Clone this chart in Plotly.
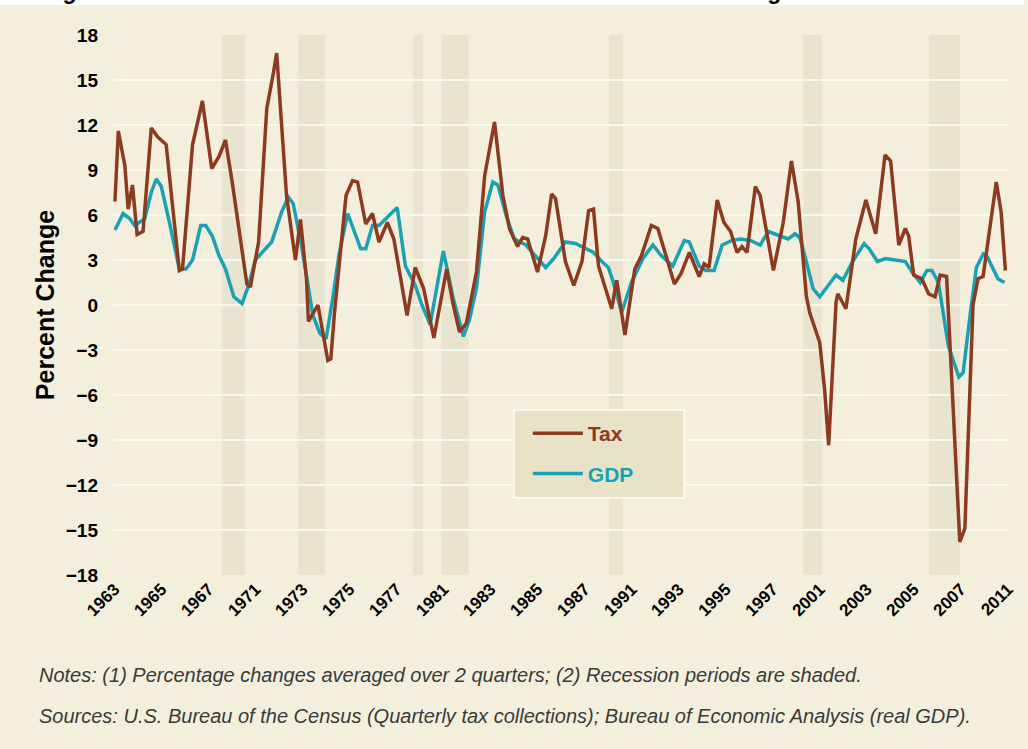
import numpy as np
import plotly.graph_objects as go

# ---- data: percent change, averaged over 2 quarters ----
tax_years = [1964.00, 1964.18, 1964.53, 1964.71, 1964.94, 1965.19, 1965.51, 1965.95, 1966.30, 1966.75,
             1967.46, 1967.63, 1968.17, 1968.70, 1969.20, 1969.59, 1969.94, 1970.30, 1971.09, 1971.28,
             1971.72, 1972.16, 1972.52, 1972.69, 1973.22, 1973.70, 1973.97, 1974.29, 1974.40, 1974.91,
             1975.44, 1975.60, 1975.80, 1976.42, 1976.77, 1977.04, 1977.48, 1977.84, 1978.19, 1978.64,
             1978.99, 1979.34, 1979.70, 1980.14, 1980.59, 1981.14, 1981.83, 1982.15, 1982.52, 1982.89,
             1983.43, 1983.87, 1984.40, 1984.85, 1985.20, 1985.64, 1985.91, 1986.18, 1986.71, 1987.15,
             1987.47, 1987.68, 1988.21, 1988.66, 1989.10, 1989.46, 1989.72, 1989.99, 1990.70, 1990.97,
             1991.41, 1991.94, 1992.30, 1992.83, 1993.18, 1994.07, 1994.43, 1994.87, 1995.40, 1995.67,
             1995.93, 1996.37, 1996.73, 1997.09, 1997.44, 1997.70, 1997.97, 1998.42, 1998.68, 1999.39,
             1999.92, 2000.36, 2000.72, 2001.16, 2001.34, 2001.88, 2002.14, 2002.36, 2002.76, 2002.85,
             2003.29, 2003.82, 2004.36, 2004.89, 2005.39, 2005.69, 2006.13, 2006.48, 2006.66, 2006.93,
             2007.37, 2007.73, 2008.08, 2008.35, 2008.70, 2009.41, 2009.68, 2010.12, 2010.39, 2010.66,
             2011.37, 2011.63, 2011.86]
tax_values = [6.9, 11.6, 9.3, 6.4, 8.0, 4.7, 4.9, 11.8, 11.2, 10.7,
              2.3, 2.4, 10.7, 13.6, 9.1, 9.9, 11.0, 8.2, 1.4, 1.2,
              4.2, 13.1, 15.5, 16.8, 7.3, 3.0, 5.7, 1.8, -1.1, 0.0,
              -3.7, -3.6, -0.5, 7.3, 8.3, 8.2, 5.4, 6.1, 4.2, 5.5,
              4.4, 2.0, -0.7, 2.5, 1.1, -2.2, 2.4, 0.2, -1.8, -1.2,
              2.2, 8.6, 12.2, 7.3, 5.1, 3.9, 4.5, 4.4, 2.2, 4.6,
              7.4, 7.1, 2.9, 1.3, 2.9, 6.3, 6.4, 2.6, -0.25, 1.65,
              -2.0, 2.4, 3.3, 5.3, 5.1, 1.4, 2.1, 3.5, 1.9, 2.75,
              2.5, 7.0, 5.5, 4.9, 3.5, 3.9, 3.5, 7.9, 7.3, 2.3,
              5.5, 9.6, 6.9, 0.6, -0.5, -2.5, -5.6, -9.35, 0.2, 0.75,
              -0.25, 4.4, 7.0, 4.75, 10.0, 9.6, 4.0, 5.1, 4.6, 2.0,
              1.75, 0.75, 0.55, 2.0, 1.9, -15.8, -14.9, 0.0, 1.75, 1.9,
              8.2, 6.2, 2.3]

gdp_years = [1964.00, 1964.44, 1964.80, 1965.06, 1965.60, 1965.95, 1966.22, 1966.49, 1966.93, 1967.46,
             1967.82, 1968.17, 1968.61, 1968.88, 1969.23, 1969.59, 1969.94, 1970.39, 1970.83, 1971.18,
             1971.54, 1972.07, 1972.42, 1972.96, 1973.31, 1973.58, 1974.02, 1974.38, 1974.64, 1975.02,
             1975.35, 1975.71, 1976.06, 1976.51, 1977.21, 1977.48, 1977.84, 1978.19, 1978.81, 1979.17,
             1979.61, 1980.14, 1980.50, 1980.94, 1981.65, 1982.19, 1982.73, 1983.05, 1983.43, 1983.87,
             1984.31, 1984.58, 1985.02, 1985.46, 1986.09, 1986.44, 1987.15, 1987.59, 1988.21, 1988.75,
             1989.28, 1989.72, 1990.17, 1990.52, 1990.79, 1991.23, 1991.76, 1992.38, 1992.91, 1993.36,
             1993.98, 1994.60, 1994.87, 1995.40, 1995.76, 1996.20, 1996.64, 1997.17, 1997.62, 1998.15,
             1998.68, 1999.12, 1999.75, 2000.19, 2000.55, 2000.81, 2001.16, 2001.52, 2001.88, 2002.32,
             2002.76, 2003.12, 2003.65, 2004.27, 2004.54, 2004.98, 2005.42, 2005.95, 2006.48, 2006.84,
             2007.28, 2007.64, 2007.91, 2008.26, 2008.79, 2009.36, 2009.59, 2009.98, 2010.30, 2010.67,
             2010.89, 2011.46, 2011.81]
gdp_values = [5.0, 6.1, 5.75, 5.3, 5.75, 7.5, 8.4, 7.9, 5.5, 2.4,
              2.4, 3.0, 5.3, 5.3, 4.6, 3.3, 2.4, 0.55, 0.1, 1.3,
              3.0, 3.75, 4.2, 6.2, 7.2, 6.75, 4.0, 1.3, -0.7, -1.9,
              -2.25, 0.5, 3.5, 6.1, 3.75, 3.75, 5.3, 5.3, 6.1, 6.5,
              2.6, 1.3, 0.0, -1.3, 3.6, 0.4, -2.1, -1.0, 1.1, 6.2,
              8.2, 8.0, 6.0, 4.4, 4.0, 3.5, 2.5, 3.1, 4.2, 4.1,
              3.75, 3.5, 2.9, 2.5, 1.5, -0.5, 1.5, 3.1, 4.0, 3.3,
              2.6, 4.3, 4.2, 2.6, 2.3, 2.3, 4.0, 4.3, 4.4, 4.3,
              4.0, 4.9, 4.6, 4.4, 4.75, 4.5, 2.9, 1.1, 0.55, 1.3,
              2.0, 1.65, 2.9, 4.1, 3.75, 2.9, 3.1, 3.0, 2.9, 2.2,
              1.5, 2.3, 2.3, 1.5, -2.7, -4.8, -4.5, -0.5, 2.5, 3.4,
              3.2, 1.75, 1.5]

# recession periods (start, end) in decimal years
recession_start = [1969.75, 1973.85, 1980.0, 1981.55, 1990.55, 2001.0, 2007.75]
recession_end = [1971.0, 1975.28, 1980.55, 1983.0, 1991.3, 2002.0, 2009.42]

tick_labels = ["1963", "1965", "1967", "1971", "1973", "1975", "1977", "1981", "1983", "1985",
               "1987", "1991", "1993", "1995", "1997", "2001", "2003", "2005", "2007", "2011"]
y_ticks = list(range(-18, 19, 3))

# ---- styling ----
CREAM = "#F4EFDC"
BAND = "#E9E4D0"
GRID = "#FBF8EF"
TAX_COLOR = "#8C3A20"
GDP_COLOR = "#1AA2B4"
ZERO_COLOR = "#2E5D8C"
FONT = "Liberation Sans, Arial, sans-serif"

X_MIN, X_MAX = 1963.894, 2012.0
W, H = 1028, 749
ML, MR, MT, MB = 113, 11, 35, 174
PW, PH = W - ML - MR, H - MT - MB


def px_x(px):
    return (px - ML) / PW


def px_y(py):
    return (H - MB - py) / PH


fig = go.Figure()

# GDP first so the tax line is drawn on top; legendrank keeps Tax listed first
fig.add_trace(go.Scatter(
    x=gdp_years, y=gdp_values, mode="lines",
    name=f"<span style='color:{GDP_COLOR}'><b>GDP</b></span>",
    line=dict(color=GDP_COLOR, width=3.5),
    legendgroup="gdp", legendrank=2,
))
fig.add_trace(go.Scatter(
    x=tax_years, y=tax_values, mode="lines",
    name=f"<span style='color:{TAX_COLOR}'><b>Tax</b></span>",
    line=dict(color=TAX_COLOR, width=3.5),
    legendgroup="tax", legendrank=1,
))

shapes = []
for s, e in zip(recession_start, recession_end):
    shapes.append(dict(type="rect", xref="x", yref="paper", x0=s, x1=e, y0=0, y1=1,
                       fillcolor=BAND, line=dict(width=0), layer="between"))
shapes.append(dict(type="line", xref="paper", yref="y", x0=0, x1=0.993, y0=0, y1=0,
                   line=dict(color=ZERO_COLOR, width=2), layer="between"))
# legend box
shapes.append(dict(type="rect", xref="paper", yref="paper",
                   x0=px_x(518), x1=px_x(690), y0=px_y(498), y1=px_y(410),
                   fillcolor="#E8E3C6", line=dict(color="#FAF7EC", width=2), layer="above"))
# white strip at the very top
shapes.append(dict(type="rect", xref="paper", yref="paper",
                   x0=px_x(-5), x1=px_x(W + 5), y0=px_y(5), y1=px_y(-5),
                   fillcolor="white", line=dict(width=0), layer="below"))

tick_positions = np.linspace(1963.98, 2012.0, len(tick_labels))
y_text = [str(v).replace("-", "\u2212") for v in y_ticks]

annotations = [
    dict(text="<b>Figure 3: U.S. Real State Tax Revenue and Real GDP Percent Change from a Year Earlier</b>",
         xref="paper", yref="paper", x=px_x(40), y=px_y(5), xanchor="left", yanchor="bottom",
         showarrow=False, borderpad=0, font=dict(family=FONT, size=23, color="black")),
    dict(text="<i>Notes: (1) Percentage changes averaged over 2 quarters; (2) Recession periods are shaded.</i>",
         xref="paper", yref="paper", x=px_x(36), y=px_y(675), xanchor="left", yanchor="middle",
         showarrow=False, font=dict(family=FONT, size=20, color="#3A3A3A")),
    dict(text="<i>Sources: U.S. Bureau of the Census (Quarterly tax collections); Bureau of Economic Analysis (real GDP).</i>",
         xref="paper", yref="paper", x=px_x(36), y=px_y(716), xanchor="left", yanchor="middle",
         showarrow=False, font=dict(family=FONT, size=20, color="#3A3A3A")),
]

fig.update_layout(
    width=W, height=H,
    margin=dict(l=ML, r=MR, t=MT, b=MB),
    paper_bgcolor=CREAM,
    plot_bgcolor=CREAM,
    font=dict(family=FONT, color="black"),
    shapes=shapes,
    annotations=annotations,
    showlegend=True,
    legend=dict(
        x=px_x(532), y=px_y(413), xanchor="left", yanchor="top",
        bgcolor="rgba(0,0,0,0)", borderwidth=0,
        font=dict(family=FONT, size=21),
        traceorder="grouped", tracegroupgap=10,
        itemwidth=50,
    ),
    xaxis=dict(
        range=[X_MIN, X_MAX],
        tickmode="array", tickvals=tick_positions, ticktext=tick_labels,
        tickangle=-45, showgrid=False, zeroline=False, showline=False,
        ticks="", tickfont=dict(family=FONT, size=17, color="black", weight="bold"),
    ),
    yaxis=dict(
        range=[-18, 18],
        tickmode="array", tickvals=y_ticks, ticktext=y_text,
        showgrid=True, gridcolor=GRID, gridwidth=2,
        zeroline=False, showline=False, ticks="",
        ticklabelstandoff=14,
        tickfont=dict(family=FONT, size=19, color="black", weight="bold"),
        title=dict(text="<b>Percent Change</b>", standoff=4,
                   font=dict(family=FONT, size=25, color="black")),
    ),
)

fig.write_html("out.html")
